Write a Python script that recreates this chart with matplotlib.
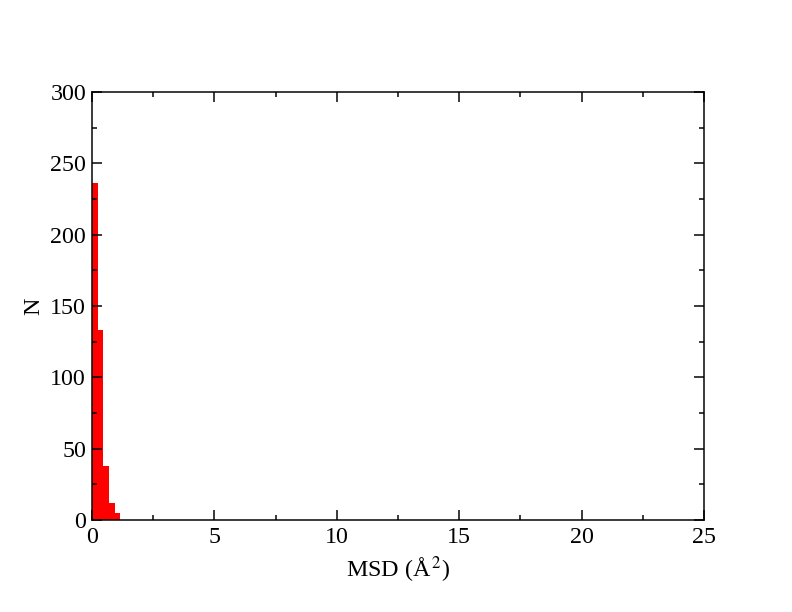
import numpy as np
import matplotlib
matplotlib.use('Agg')
import matplotlib.pyplot as plt
from matplotlib.ticker import MultipleLocator

# histogram of MSD values
bin_edges = [0.0, 0.23, 0.46, 0.69, 0.92, 1.15]
counts = [236, 133, 38, 12, 5]

plt.rcParams['font.family'] = ['Liberation Serif', 'DejaVu Serif']
plt.rcParams['mathtext.fontset'] = 'stix'

fig = plt.figure(figsize=(11, 8.5), dpi=72)
ax = fig.add_axes([92/792, 92/612, 612/792, 428/612])

ax.bar(bin_edges[:-1], counts, width=np.diff(bin_edges), align='edge',
       color='#ff0000', edgecolor='none')

ax.set_xlim(0, 25)
ax.set_ylim(0, 300)
ax.xaxis.set_major_locator(MultipleLocator(5))
ax.xaxis.set_minor_locator(MultipleLocator(2.5))
ax.yaxis.set_major_locator(MultipleLocator(50))
ax.yaxis.set_minor_locator(MultipleLocator(25))
ax.tick_params(which='both', direction='in', top=True, right=True,
               labelsize=24, width=1.5)
ax.tick_params(axis='x', pad=7)
ax.tick_params(axis='y', pad=6)
ax.tick_params(which='major', length=10)
ax.tick_params(which='minor', length=5)
for s in ax.spines.values():
    s.set_linewidth(1.5)

ax.set_xlabel('MSD (Å$^{\\,2}$)', fontsize=24, labelpad=6)
ax.set_ylabel('N', fontsize=24, labelpad=6)

plt.savefig('out.png', dpi=72)
